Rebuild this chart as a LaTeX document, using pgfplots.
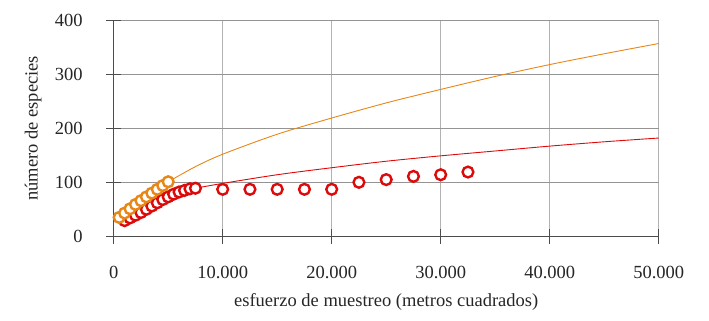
\documentclass[border=0pt]{standalone}
\usepackage{fontspec}
\setmainfont{Liberation Serif}
\usepackage{pgfplots}
\pgfplotsset{compat=1.18}
\usetikzlibrary{calc}
\definecolor{cOr}{RGB}{232,134,22}
\definecolor{cRd}{RGB}{220,10,10}
\begin{document}
\begin{tikzpicture}
\begin{axis}[name=ax, scale only axis, width=545pt, height=216pt,
  xmin=0, xmax=50000, ymin=0, ymax=400,
  xtick={0,10000,20000,30000,40000,50000}, ytick={0,100,200,300,400},
  scaled x ticks=false,
  /pgf/number format/1000 sep={.},
  /pgf/number format/assume math mode=true,
  axis x line*=bottom, axis y line*=left,
  axis line style={draw=black!70, line width=1.3pt},
  tick style={draw=black!70, line width=1.3pt},
  major tick length=15pt, tick align=center,
  xmajorgrids, ymajorgrids,
  x grid style={draw=black!30, line width=1.2pt},
  y grid style={draw=black!42, line width=1.2pt},
  tick label style={font=\fontsize{18.5}{22}\selectfont, text=black!85},
  label style={font=\fontsize{18.5}{22}\selectfont, text=black!85},
  xticklabel shift=19pt, yticklabel shift=20pt,
  xlabel={esfuerzo de muestreo (metros cuadrados)},
  ylabel={número de especies},
  xlabel style={at={(axis description cs:0.5,-0.305)}, anchor=center},
  ylabel style={at={(axis description cs:-0.148,0.5)}, anchor=center},
  clip=false,
]
\addplot[cRd, line width=0.9pt, smooth, tension=0.5, no marks] coordinates {
 (7500,89)(10000,98)(15000,114)(20000,127)(25000,139)(30000,149)(35000,158)(40000,167)(45000,175)(50000,182)};
\addplot[only marks, mark=*, mark size=5.4pt, mark options={draw=cRd, fill=white, line width=2.4pt}] coordinates {
 (1000,29)(1500,34)(2000,39)(2500,44)(3000,50)(3500,56)(4000,62)(4500,68)(5000,73)(5500,78)(6000,82)(6500,85)(7000,88)(7500,89)
 (10000,87)(12500,87)(15000,87)(17500,87)(20000,87)(22500,100)(25000,105)(27500,111)(30000,114)(32500,119)};
\addplot[cOr, line width=0.9pt, smooth, no marks] coordinates {
 (5000,101)(7500,129)(10000,152)(15000,189)(20000,219)(25000,247)(30000,272)(35000,296)(40000,318)(45000,338)(50000,357)};
\addplot[only marks, mark=*, mark size=5.4pt, mark options={draw=cOr, fill=white, line width=2.4pt}] coordinates {
 (500,35)(1000,43)(1500,51)(2000,59)(2500,66)(3000,73)(3500,80)(4000,87)(4500,94)(5000,101)};
\end{axis}
\pgfresetboundingbox
\path[use as bounding box] ($(ax.south west)+(-113.7pt,-84.7pt)$) rectangle ($(ax.north east)+(50.3pt,20.3pt)$);
\end{tikzpicture}
\end{document}
